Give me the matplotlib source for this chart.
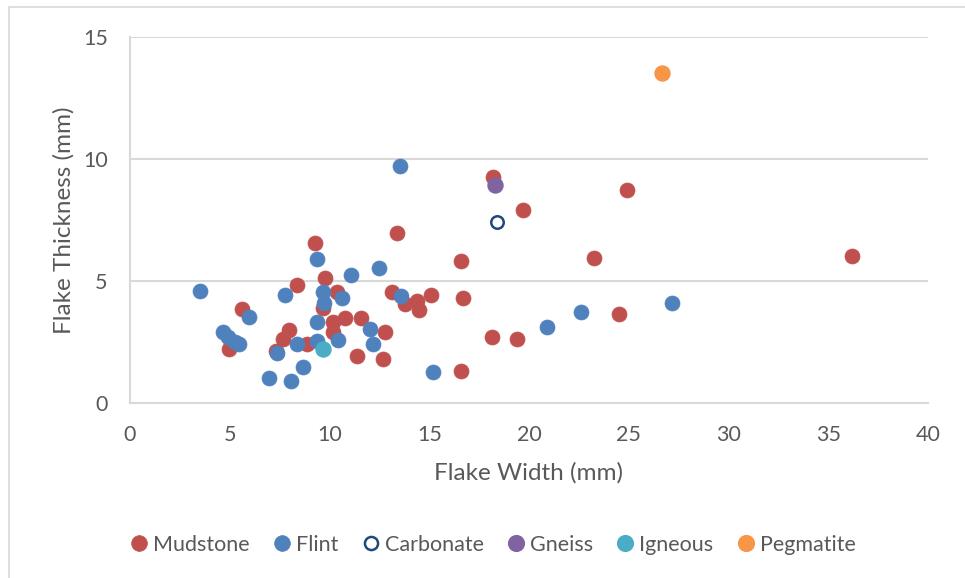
import matplotlib
matplotlib.use("Agg")
import matplotlib.pyplot as plt
from matplotlib.patches import Rectangle

# flake width / thickness (mm)
mudstone_x = [5.63, 4.98, 8.35, 7.98, 7.65, 7.32, 8.89, 9.27, 9.77, 9.65, 10.36, 10.19,
              10.19, 10.78, 11.58, 11.36, 12.66, 12.78, 13.11, 13.37, 13.78, 14.37, 14.49,
              15.09, 16.57, 16.67, 16.57, 18.18, 18.17, 19.68, 19.38, 23.27, 24.51, 24.9, 36.19]
mudstone_y = [3.84, 2.2, 4.84, 3.01, 2.61, 2.13, 2.4, 6.55, 5.11, 3.91, 4.56, 3.33,
              2.92, 3.5, 3.5, 1.91, 1.8, 2.9, 4.54, 6.98, 4.07, 4.16, 3.81,
              4.43, 5.82, 4.32, 1.31, 9.25, 2.69, 7.91, 2.61, 5.93, 3.63, 8.73, 6.02]

flint_x = [3.5, 5.98, 4.68, 4.93, 5.26, 5.46, 7.77, 7.35, 8.39, 9.36, 9.69, 9.72, 9.36,
           9.36, 8.65, 6.98, 8.07, 11.08, 12.48, 10.64, 13.58, 10.44, 12.03, 12.16,
           15.17, 13.53, 20.88, 22.59, 27.18]
flint_y = [4.6, 3.51, 2.92, 2.72, 2.51, 2.4, 4.41, 2.03, 2.4, 5.9, 4.54, 4.1, 3.3,
           2.54, 1.49, 1.01, 0.9, 5.25, 5.52, 4.32, 4.4, 2.58, 3.02, 2.4,
           1.28, 9.71, 3.13, 3.72, 4.11]

carbonate_x = [18.38]
carbonate_y = [7.43]
gneiss_x = [18.3]
gneiss_y = [8.93]
igneous_x = [9.69]
igneous_y = [2.21]
pegmatite_x = [26.67]
pegmatite_y = [13.52]

x_ticks = [0, 5, 10, 15, 20, 25, 30, 35, 40]
y_ticks = [0, 5, 10, 15]

plt.rcParams['font.family'] = ['Lato', 'DejaVu Sans']
text_grey = '#595959'
grid_grey = '#D9D9D9'

fig = plt.figure(figsize=(9.65, 5.78), dpi=100)
ax = fig.add_axes([130 / 965, 1 - 403 / 578, (928 - 130) / 965, (403 - 37) / 578])

ms = 10.8
ax.plot(mudstone_x, mudstone_y, 'o', ms=ms, color='#C0504D', mec='#C0504D', mew=0.5,
        label='Mudstone', zorder=3)
ax.plot(flint_x, flint_y, 'o', ms=ms, color='#4F81BD', mec='#4F81BD', mew=0.5,
        label='Flint', zorder=3)
ax.plot(carbonate_x, carbonate_y, 'o', ms=ms - 1.8, mfc='white', mec='#1F497D', mew=1.8,
        label='Carbonate', zorder=3)
ax.plot(gneiss_x, gneiss_y, 'o', ms=ms, color='#8064A2', label='Gneiss', zorder=3)
ax.plot(igneous_x, igneous_y, 'o', ms=ms, color='#4BACC6', label='Igneous', zorder=3)
ax.plot(pegmatite_x, pegmatite_y, 'o', ms=ms, color='#F79646', label='Pegmatite', zorder=3)

ax.set_xlim(0, 40)
ax.set_ylim(0, 15)
ax.set_xticks(x_ticks)
ax.set_yticks(y_ticks)
ax.tick_params(length=0, labelsize=15.5, colors=text_grey)
ax.tick_params(axis='x', pad=16)
ax.tick_params(axis='y', pad=16)
ax.grid(axis='y', color=grid_grey, lw=1.5, zorder=0)
ax.set_axisbelow(True)
for side in ['top', 'right']:
    ax.spines[side].set_visible(False)
for side in ['left', 'bottom']:
    ax.spines[side].set_color(grid_grey)
    ax.spines[side].set_linewidth(1.5)

ax.set_xlabel('Flake Width (mm)', fontsize=17.5, color=text_grey, labelpad=12)
ax.set_ylabel('Flake Thickness (mm)', fontsize=17.5, color=text_grey, labelpad=6)

fig.legend(loc='center', bbox_to_anchor=(0.511, 1 - 545 / 578), ncol=6, frameon=False,
           fontsize=15.5, handlelength=0.8, handletextpad=0.25, columnspacing=1.1,
           markerscale=1.05, labelcolor=text_grey)

# light outer chart border
fig.patches.append(Rectangle((9 / 965, -0.05), 1.0, 1 - 7 / 578 + 0.05,
                             transform=fig.transFigure, fill=False,
                             edgecolor=grid_grey, lw=1.2))

fig.savefig('out.png', dpi=100)
